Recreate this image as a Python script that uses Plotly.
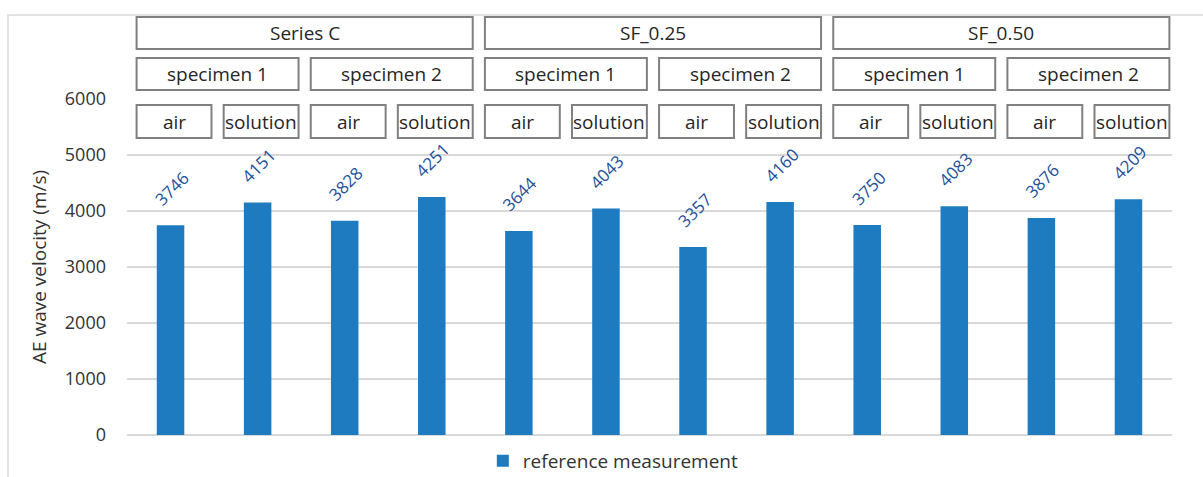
import itertools
import plotly.graph_objects as go

# ---- data ----
groups = ["Series C", "SF_0.25", "SF_0.50"]
specimens = ["specimen 1", "specimen 2"]
media = ["air", "solution"]
velocity = [3746, 4151, 3828, 4251, 3644, 4043, 3357, 4160, 3750, 4083, 3876, 4209]
series_name = "reference measurement"
y_ticks = [0, 1000, 2000, 3000, 4000, 5000, 6000]

combos = list(itertools.product(groups, specimens, media))
categories = [" | ".join(c) for c in combos]

FONT = "Open Sans"
BAR_COLOR = "#1F7BBF"
LABEL_COLOR = "#22509A"
TEXT_COLOR = "#333333"
GRID_COLOR = "#D9D9D9"
BOX_COLOR = "#808080"

fig = go.Figure()
fig.add_trace(go.Bar(
    x=categories, y=velocity, name=series_name,
    marker=dict(color=BAR_COLOR, line=dict(width=0)),
    showlegend=True,
))

# data labels rotated
for cat, v in zip(categories, velocity):
    fig.add_annotation(
        x=cat, y=v, xref="x", yref="y", text=str(v), showarrow=False,
        textangle=-45, yshift=37, xshift=1,
        font=dict(family=FONT, size=17, color=LABEL_COLOR),
    )

shapes = []
LEFT, RIGHT = 0.39, 0.47
rows = {  # paper y extents for the three label rows
    0: (1.149, 1.244),
    1: (1.027, 1.122),
    2: (0.884, 0.982),
}

def add_box(i0, i1, text, row):
    y0, y1 = rows[row]
    shapes.append(dict(type="rect", xref="x", yref="paper",
                       x0=i0 - LEFT, x1=i1 + RIGHT, y0=y0, y1=y1,
                       line=dict(color=BOX_COLOR, width=2), fillcolor="white",
                       layer="above"))
    fig.add_annotation(x=(i0 - LEFT + i1 + RIGHT) / 2, y=(y0 + y1) / 2,
                       xref="x", yref="paper", text=text, showarrow=False,
                       xanchor="center", yanchor="middle",
                       font=dict(family=FONT, size=19, color="#262626"))

n_s, n_m = len(specimens), len(media)
for gi, g in enumerate(groups):
    start = gi * n_s * n_m
    add_box(start, start + n_s * n_m - 1, g, 0)
    for si, s in enumerate(specimens):
        s_start = start + si * n_m
        add_box(s_start, s_start + n_m - 1, s, 1)
        for mi, m in enumerate(media):
            add_box(s_start + mi, s_start + mi, m, 2)

# outer chart border
shapes.append(dict(type="rect", xref="paper", yref="paper",
                   x0=-0.1139, x1=1.04, y0=-0.2, y1=1.25,
                   line=dict(color=GRID_COLOR, width=1.5), layer="below"))

fig.update_layout(
    width=1203, height=477,
    margin=dict(l=127, r=31, t=99, b=42, autoexpand=False),
    paper_bgcolor="white", plot_bgcolor="white",
    bargap=0.684,
    shapes=shapes,
    font=dict(family=FONT, color=TEXT_COLOR),
    legend=dict(orientation="h", x=0.3405, y=-0.0774, xanchor="left",
                yanchor="middle", font=dict(family=FONT, size=19, color=TEXT_COLOR),
                bgcolor="rgba(0,0,0,0)"),
    xaxis=dict(type="category", showticklabels=False, showgrid=False,
               zeroline=False, showline=False, ticks="",
               range=[-0.5, len(categories) - 0.5]),
    yaxis=dict(range=[0, 6000], tickvals=y_ticks, showgrid=True,
               gridcolor=GRID_COLOR, gridwidth=1.5, zeroline=True,
               zerolinecolor=GRID_COLOR, zerolinewidth=1.5, showline=False,
               ticks="", ticklabelstandoff=20, automargin=False,
               tickfont=dict(family=FONT, size=18, color=TEXT_COLOR),
               title=dict(text="AE wave velocity (m/s)", standoff=13,
                          font=dict(family=FONT, size=19, color=TEXT_COLOR))),
)

fig.write_html("out.html")
